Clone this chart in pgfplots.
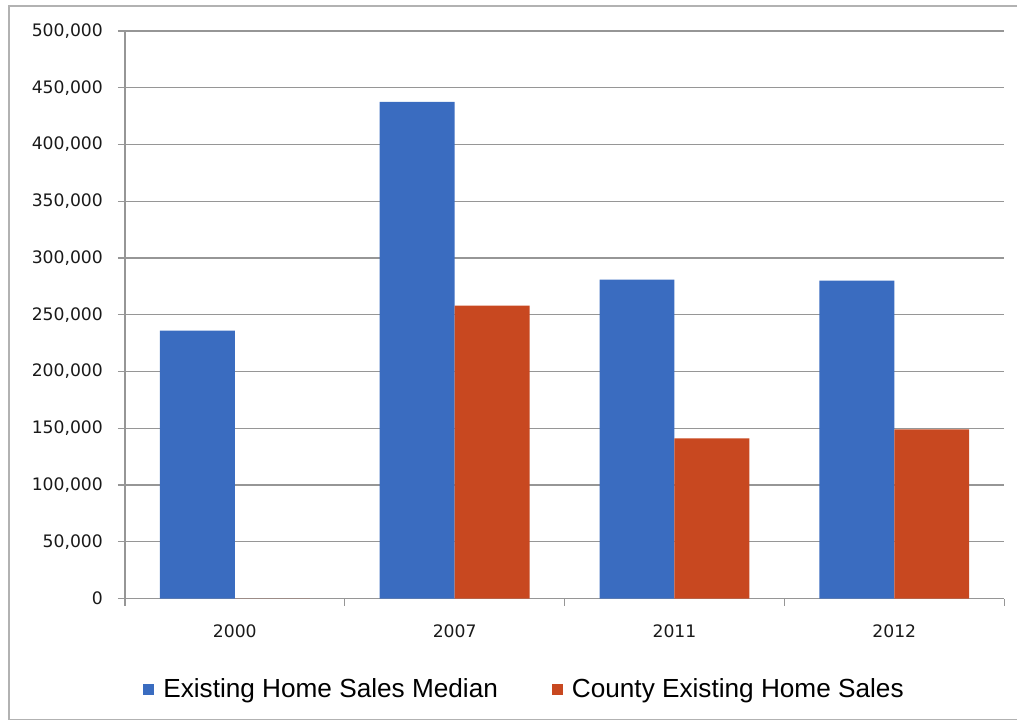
\documentclass[border=0pt]{standalone}
\usepackage{pgfplots}
\pgfplotsset{compat=1.18}
\usepackage{fontspec}
\setmainfont{Liberation Sans}
\newfontfamily\tickfont{DejaVu Sans}
\newfontfamily\legfont{Liberation Sans}
\definecolor{barblue}{RGB}{58,108,192}
\definecolor{barred}{RGB}{200,72,32}
\definecolor{gridgray}{RGB}{150,150,150}
\begin{document}
\begin{tikzpicture}
\path (0,0) rectangle (509pt,361.5pt);
\draw[gray!60, line width=0.8pt] (509pt,358.5pt) -- (4.5pt,358.5pt) -- (4.5pt,1.5pt) -- (509pt,1.5pt);
\begin{axis}[
  at={(62.5pt,62pt)}, anchor=south west,
  scale only axis, width=440pt, height=284pt,
  ybar=0pt, bar width=37.5pt,
  xmin=-0.5, xmax=3.5, ymin=0, ymax=500000,
  axis x line*=bottom, axis y line*=left,
  axis line style={gridgray, line width=0.6pt, -},
  xtick={0,1,2,3}, xticklabels={2000,2007,2011,2012},
  major x tick style={draw=none},
  minor xtick={-0.5,0.5,1.5,2.5,3.5},
  minor x tick style={gridgray, line width=0.6pt},
  tick align=outside,
  minor tick length=3.5pt, major tick length=3.5pt,
  ytick={0,50000,...,500000},
  y tick style={gridgray, line width=0.6pt},
  ymajorgrids, grid style={gridgray, line width=0.6pt},
  scaled y ticks=false,
  /pgf/number format/fixed,
  /pgf/number format/1000 sep={,},
  /pgf/number format/assume math mode=true,
  tick label style={font=\tickfont\fontsize{8.6pt}{10pt}\selectfont, text=black!90},
  xticklabel style={yshift=-6pt},
  yticklabel style={xshift=-4pt},
  legend style={at={(0.0205,-0.160)}, anchor=west, draw=none, fill=none,
    font=\legfont\fontsize{13.1pt}{15pt}\selectfont, inner sep=0pt,
    legend cell align=left,
    /tikz/every odd column/.append style={column sep=2.5pt},
    /tikz/every even column/.append style={column sep=25pt}},
  legend columns=2,
  legend image code/.code={\fill[#1, draw=none] (0pt,-2.75pt) rectangle (5.5pt,2.75pt);},
  every axis plot/.append style={draw=none},
]
\addplot[fill=barblue] coordinates {(0,236000) (1,437500) (2,281000) (3,280000)};
\addplot[fill=barred] coordinates {(0,0) (1,258000) (2,141000) (3,149000)};
\legend{Existing Home Sales Median, County Existing Home Sales}
\end{axis}
\end{tikzpicture}
\end{document}
